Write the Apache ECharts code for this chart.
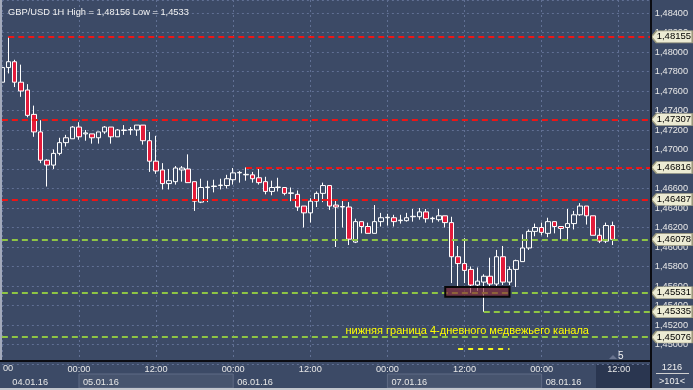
<!DOCTYPE html>
<html><head><meta charset="utf-8">
<script src="https://cdn.jsdelivr.net/npm/echarts@6/dist/echarts.min.js"></script>
<style>html,body{margin:0;padding:0;background:#3c4a66;}#c{width:693px;height:390px;}</style>
</head><body><div id="c"></div>
<script>
const titleText = 'GBP/USD 1H High = 1,48156 Low = 1,4533';
// hourly candles starting 04.01.16 12:00
const opens = [1.4769,1.4784,1.4790,1.4769,1.4761,1.4736,1.4718,1.4689,1.4684,1.4696,1.4707,1.4711,1.4723,1.4716,1.4716,1.4712,1.4718,1.4723,1.4713,1.47195,1.4720,1.4720,1.4725,1.4709,1.4688,1.4679,1.4665,1.4667,1.4679,1.4680,1.4667,1.4646,1.4661,1.4662,1.4663,1.4663,1.4669,1.4676,1.4674,1.4674,1.4671,1.4667,1.4657,1.4661,1.4661,1.4655,1.4654,1.4642,1.4635,1.4647,1.4655,1.4663,1.4643,1.4641,1.4641,1.4605,1.4626,1.4621,1.4614,1.4626,1.4630,1.4630,1.4627,1.4627,1.4631,1.4631,1.4636,1.4629,1.4628,1.4632,1.4625,1.4590,1.4583,1.4577,1.4561,1.4564,1.4570,1.4562,1.4590,1.4564,1.4577,1.4585,1.4599,1.4616,1.4620,1.4614,1.4626,1.4621,1.4620,1.4624,1.4633,1.4642,1.4632,1.4612,1.4606,1.4622];
const closes = [1.4784,1.4790,1.4769,1.4760,1.4735,1.4718,1.4689,1.4684,1.4696,1.4707,1.4712,1.4723,1.4713,1.4717,1.4712,1.4718,1.4723,1.4713,1.4720,1.4720,1.47205,1.4725,1.4709,1.4688,1.4678,1.4665,1.4668,1.4681,1.4681,1.4666,1.4647,1.4661,1.46615,1.46625,1.46635,1.4670,1.4676,1.46765,1.46745,1.4670,1.4666,1.4657,1.4661,1.46615,1.4655,1.46555,1.4641,1.4635,1.4647,1.4655,1.4663,1.4642,1.4641,1.46415,1.4608,1.4626,1.4621,1.4614,1.4626,1.4630,1.46305,1.4626,1.46275,1.4630,1.46315,1.4636,1.4629,1.46295,1.4632,1.4625,1.4590,1.4583,1.4576,1.4561,1.4565,1.4570,1.4562,1.4590,1.4564,1.4577,1.4586,1.4599,1.4616,1.4620,1.4615,1.4626,1.4621,1.4619,1.4624,1.4633,1.4642,1.4632,1.4612,1.4606,1.4622,1.46078];
const lows = [1.4767,1.4778,1.4764,1.4754,1.4733,1.4713,1.4686,1.4662,1.4680,1.4694,1.4703,1.4711,1.4710,1.4709,1.4706,1.4706,1.4716,1.4706,1.4713,1.4715,1.4715,1.4714,1.4705,1.4677,1.4675,1.4659,1.4659,1.4664,1.4667,1.4666,1.4637,1.4645,1.4646,1.4656,1.4659,1.4660,1.4664,1.4666,1.4668,1.4666,1.4664,1.4654,1.4653,1.4657,1.4653,1.4647,1.4637,1.4620,1.4625,1.4641,1.4646,1.4638,1.4600,1.4620,1.4602,1.4604,1.4614,1.4614,1.4614,1.4621,1.4622,1.4621,1.4624,1.4626,1.4626,1.4628,1.4625,1.4625,1.4626,1.4620,1.4563,1.4559,1.4563,1.4553,1.4555,1.45335,1.4558,1.4559,1.4561,1.4561,1.4559,1.4585,1.4597,1.4611,1.4612,1.4610,1.4614,1.4608,1.4606,1.4618,1.4632,1.4623,1.4612,1.4604,1.4604,1.4602];
const highs = [1.4785,1.48156,1.4792,1.4787,1.4767,1.4745,1.4730,1.4690,1.4700,1.4712,1.4715,1.4724,1.4728,1.4720,1.4716,1.4718,1.4724,1.4723,1.4721,1.4725,1.4723,1.4725,1.4725,1.4718,1.4714,1.4686,1.4680,1.4683,1.4683,1.4695,1.4667,1.4670,1.4668,1.4669,1.4670,1.4674,1.4681,1.4678,1.46816,1.4677,1.4680,1.4672,1.4668,1.4671,1.4661,1.4661,1.4658,1.4642,1.4650,1.4657,1.4666,1.4663,1.4648,1.4648,1.4646,1.4629,1.4626,1.4625,1.4643,1.4635,1.4634,1.4633,1.4633,1.4635,1.4639,1.4640,1.4639,1.4631,1.4639,1.4632,1.4631,1.4601,1.4609,1.4580,1.4579,1.4572,1.4589,1.4597,1.4601,1.4580,1.4587,1.4613,1.4618,1.4624,1.4625,1.4630,1.4626,1.4621,1.4639,1.4637,1.4645,1.4642,1.4632,1.4619,1.4625,1.4626];
const futureSlots = 6;
const firstHour = 12, firstDay = 4;
const yTicks = {min: 1.448, max: 1.48533, step: 0.002};
const redLevels = [{value:1.48155, from:1}, {value:1.47307, from:0}, {value:1.46816, from:38}, {value:1.46487, from:0}];
const greenLevels = [{value:1.46078, from:0}, {value:1.45531, from:0}, {value:1.45335, from:75}, {value:1.45076, from:0}];
const yellowSegment = {value:1.44955, from:71, to:79};
const zone = {from:69, to:79, low:1.4549, high:1.4559};
const note = {text:'нижняя граница 4-дневного медвежьего канала', index:53, value:1.45138};
const cornerTop = '1216', cornerBottom = '>101<', futureMark = '5';

const pad = n => (n < 10 ? '0' : '') + n;
const categories = [];
for (let i = 0; i < opens.length + futureSlots; i++) {
  const h = firstHour + i;
  categories.push(pad(firstDay + Math.floor(h / 24)) + '.01.16 ' + pad(h % 24) + ':00');
}
const lastIdx = categories.length - 1;
const candleData = opens.map((o, i) => [o, closes[i], lows[i], highs[i]]);
const fmt = v => v.toFixed(5).replace('.', ',');
const isDayStart = i => categories[i].slice(9) === '00:00';
const dateIdx = i => i === 1 || isDayStart(i);

const BG = '#3c4a66';
const FONT = 'Liberation Sans';
const gridLine = {color: '#617094', type: [2, 3], width: 1};

const levelLine = (lv, color) => [{coord:[lv.from, lv.value], lineStyle:{color:color}}, {coord:[lastIdx, lv.value]}];
const tagPath = 'path://M0,6 L5,0 L40,0 L40,12 L5,12 Z';
const tag = lv => ({
  coord:[lastIdx, lv.value], symbol: tagPath, symbolSize:[41,12], symbolOffset:[21,0], symbolKeepAspect:false,
  itemStyle:{color:'#ecebd3', borderColor:'#9a987c', borderWidth:1},
  label:{show:true, position:'inside', formatter: fmt(lv.value), color:'#000', fontSize:9.5, fontFamily:FONT, offset:[2,0]}
});

const chart = echarts.init(document.getElementById('c'), null, {renderer:'canvas', width:693, height:390});
chart.setOption({
  backgroundColor: BG,
  animation: false,
  title: {text: titleText, left: 3, top: 3, textStyle: {color:'#f2f2f2', fontSize:9.3, fontWeight:'normal', fontFamily:FONT}},
  grid: {left: 1.87, top: 0, width: 649, height: 364, containLabel: false},
  xAxis: [{
    type:'category', data: categories, boundaryGap:false, position:'bottom',
    axisLine:{show:false}, axisTick:{show:false},
    splitLine:{show:true, interval:(i) => i % 12 === 0, lineStyle: gridLine},
    axisLabel:{interval:(i) => i > 0 && i % 12 === 0, formatter: v => v.slice(9), fontSize:9.2, fontFamily:FONT, margin:1,
      color:(v, i) => (i > opens.length - 1 ? '#7d879b' : '#e8e8e8')}
  }, {
    type:'category', data: categories, boundaryGap:false, position:'bottom', offset:0,
    axisLine:{show:false}, axisTick:{show:false}, splitLine:{show:false},
    axisLabel:{interval:(i) => dateIdx(i), formatter: v => v.slice(0, 8), align:'left', padding:[0,0,0,4],
      fontSize:9.2, fontFamily:FONT, margin:14, color:'#e8e8e8'}
  }],
  yAxis: {
    type:'value', position:'right', min: yTicks.min, max: yTicks.max, interval: yTicks.step, scale:true,
    axisLine:{show:false}, axisTick:{show:false},
    splitLine:{show:true, lineStyle: gridLine},
    axisLabel:{color:'#e8e8e8', fontSize:9.2, fontFamily:FONT, margin:4, align:'left',
      formatter: v => (v > 1.4845 || v < 1.4495) ? '' : fmt(v)}
  },
  series: [{
    type:'candlestick', data: candleData, barWidth: 5,
    itemStyle:{color: BG, color0:'#e31a3a', borderColor:'#ffffff', borderColor0:'#ffffff', borderWidth:1},
    markLine:{
      silent:true, symbol:['none','none'], label:{show:false}, z:5,
      lineStyle:{type:[6,4], width:2},
      data: redLevels.map(lv => levelLine(lv, '#ee1414'))
        .concat(greenLevels.map(lv => levelLine(lv, '#8ec544')))
        .concat([[{coord:[yellowSegment.from, yellowSegment.value], lineStyle:{color:'#f2f21a', type:[5,5]}}, {coord:[yellowSegment.to, yellowSegment.value]}]])
    },
    markArea:{
      silent:true, z:6,
      itemStyle:{color:'rgba(140,38,50,0.62)', borderColor:'#080808', borderWidth:2},
      data:[[{coord:[zone.from, zone.high]}, {coord:[zone.to, zone.low]}]]
    },
    markPoint:{
      silent:true, z:7,
      data: redLevels.concat(greenLevels).map(tag).concat([{
        coord:[note.index, note.value], symbol:'circle', symbolSize:0, itemStyle:{color:'rgba(0,0,0,0)'},
        label:{show:true, position:'right', distance:3, formatter: note.text, color:'#ffff00', fontSize:11, fontFamily:FONT}
      }])
    }
  }]
});

const xPx = i => chart.convertToPixel({xAxisIndex:0}, i);
const dayCells = [];
const starts = categories.map((c, i) => i).filter(isDayStart);
for (let k = 0; k < starts.length; k += 2) {
  const a = xPx(starts[k]);
  const b = starts[k + 1] !== undefined ? xPx(starts[k + 1]) : 651;
  dayCells.push({type:'rect', z:-1, shape:{x:a, y:374, width:b - a, height:14}, style:{fill:'#47546e', stroke:'#5f6b85', lineWidth:1}});
}
const futureLeft = xPx(opens.length - 4) + 3;
chart.setOption({graphic: dayCells.concat([
  {type:'rect', z:100, shape:{x:0, y:361, width:651, height:3}, style:{fill: BG}},
  {type:'rect', z:-1, shape:{x:futureLeft, y:362, width:650 - futureLeft, height:26}, style:{fill:'#2a3650'}},
  {type:'rect', z:101, shape:{x:0, y:360, width:651, height:2}, style:{fill:'#0b0c12'}},
  {type:'rect', z:101, shape:{x:650, y:0, width:2, height:390}, style:{fill:'#0b0c12'}},
  {type:'rect', z:101, shape:{x:0, y:0, width:2, height:360}, style:{fill:'#a3aabb'}},
  {type:'rect', z:101, shape:{x:0, y:388, width:693, height:2}, style:{fill:'#c3c6cd'}},
  {type:'text', z:101, style:{x:3, y:364, text:'00', fill:'#e8e8e8', font:'9.2px ' + FONT}},
  {type:'text', z:101, style:{x:618, y:351, text:futureMark, fill:'#f0f0f0', font:'10px ' + FONT}},
  {type:'polygon', z:101, shape:{points:[[609,359],[613,355],[617,359]]}, style:{fill:'#6a7590'}},
  {type:'text', z:101, style:{x:672, y:363, text:cornerTop, fill:'#f0f0f0', font:'9.2px ' + FONT, align:'center'}},
  {type:'rect', z:101, shape:{x:656, y:373, width:33, height:1}, style:{fill:'#d0d0d0'}},
  {type:'text', z:101, style:{x:672, y:377, text:cornerBottom, fill:'#f0f0f0', font:'9.2px ' + FONT, align:'center'}}
])});
</script>
</body></html>
